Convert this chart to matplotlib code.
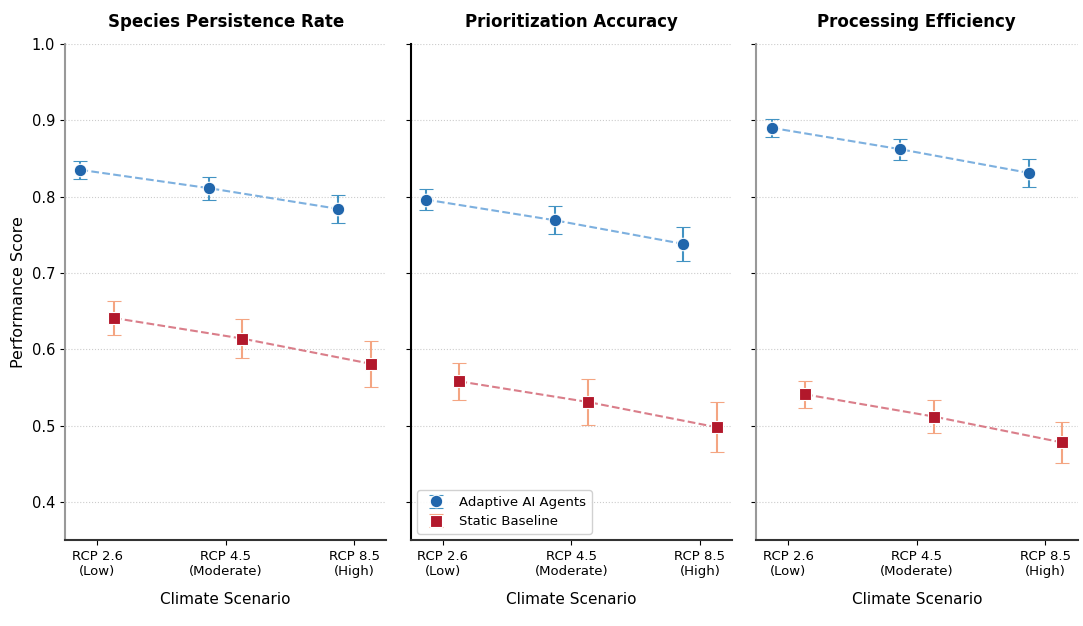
import numpy as np
import matplotlib
matplotlib.use("Agg")
import matplotlib.pyplot as plt

# data
scenarios = ["RCP 2.6\n(Low)", "RCP 4.5\n(Moderate)", "RCP 8.5\n(High)"]
metrics = ["Species Persistence Rate", "Prioritization Accuracy", "Processing Efficiency"]

adaptive_mean = [
    [0.835, 0.811, 0.784],
    [0.796, 0.769, 0.738],
    [0.890, 0.862, 0.831],
]
adaptive_err = [
    [0.012, 0.015, 0.018],
    [0.014, 0.018, 0.022],
    [0.012, 0.014, 0.018],
]
static_mean = [
    [0.641, 0.614, 0.581],
    [0.558, 0.531, 0.498],
    [0.541, 0.512, 0.478],
]
static_err = [
    [0.022, 0.026, 0.030],
    [0.024, 0.030, 0.033],
    [0.018, 0.022, 0.027],
]

x = np.arange(len(scenarios))
offset = 0.13

fig, axes = plt.subplots(1, 3, figsize=(10.83, 6.26), dpi=100, sharey=True)
fig.subplots_adjust(left=0.06, right=0.995, top=0.93, bottom=0.137, wspace=0.075)

for i, ax in enumerate(axes):
    ax.errorbar(x - offset, adaptive_mean[i], yerr=adaptive_err[i], fmt="o",
                color="#2166ac", ecolor="#4393c3", elinewidth=1.5, capsize=5,
                markersize=9, markeredgecolor="white", markeredgewidth=0.8,
                label="Adaptive AI Agents", zorder=3)
    ax.plot(x - offset, adaptive_mean[i], "--", color="#6fa8dc", linewidth=1.5,
            alpha=0.9, zorder=2)
    ax.errorbar(x + offset, static_mean[i], yerr=static_err[i], fmt="s",
                color="#b2182b", ecolor="#f4a582", elinewidth=1.5, capsize=5,
                markersize=9, markeredgecolor="white", markeredgewidth=0.8,
                label="Static Baseline", zorder=3)
    ax.plot(x + offset, static_mean[i], "--", color="#d6707d", linewidth=1.5,
            alpha=0.9, zorder=2)

    ax.set_title(metrics[i], fontsize=12, fontweight="bold", pad=12)
    ax.set_xticks(x)
    ax.set_xticklabels(scenarios, fontsize=9.5)
    ax.set_xlabel("Climate Scenario", fontsize=11, labelpad=10)
    ax.set_xlim(-0.25, 2.25)
    ax.set_ylim(0.35, 1.0)
    ax.set_yticks([0.4, 0.5, 0.6, 0.7, 0.8, 0.9, 1.0])
    ax.grid(axis="y", linestyle=":", color="#cccccc", linewidth=0.8)
    ax.spines["top"].set_visible(False)
    ax.spines["right"].set_visible(False)
    ax.spines["left"].set_color("#999999" if i != 1 else "black")
    ax.spines["left"].set_linewidth(1.5)
    ax.spines["bottom"].set_linewidth(1.5)
    ax.spines["bottom"].set_color("#333333")
    ax.tick_params(axis="y", labelsize=10.5)

axes[0].set_ylabel("Performance Score", fontsize=11.5)
axes[1].legend(loc="lower left", fontsize=9.5, framealpha=0.9)

plt.savefig("out.png", dpi=100)
